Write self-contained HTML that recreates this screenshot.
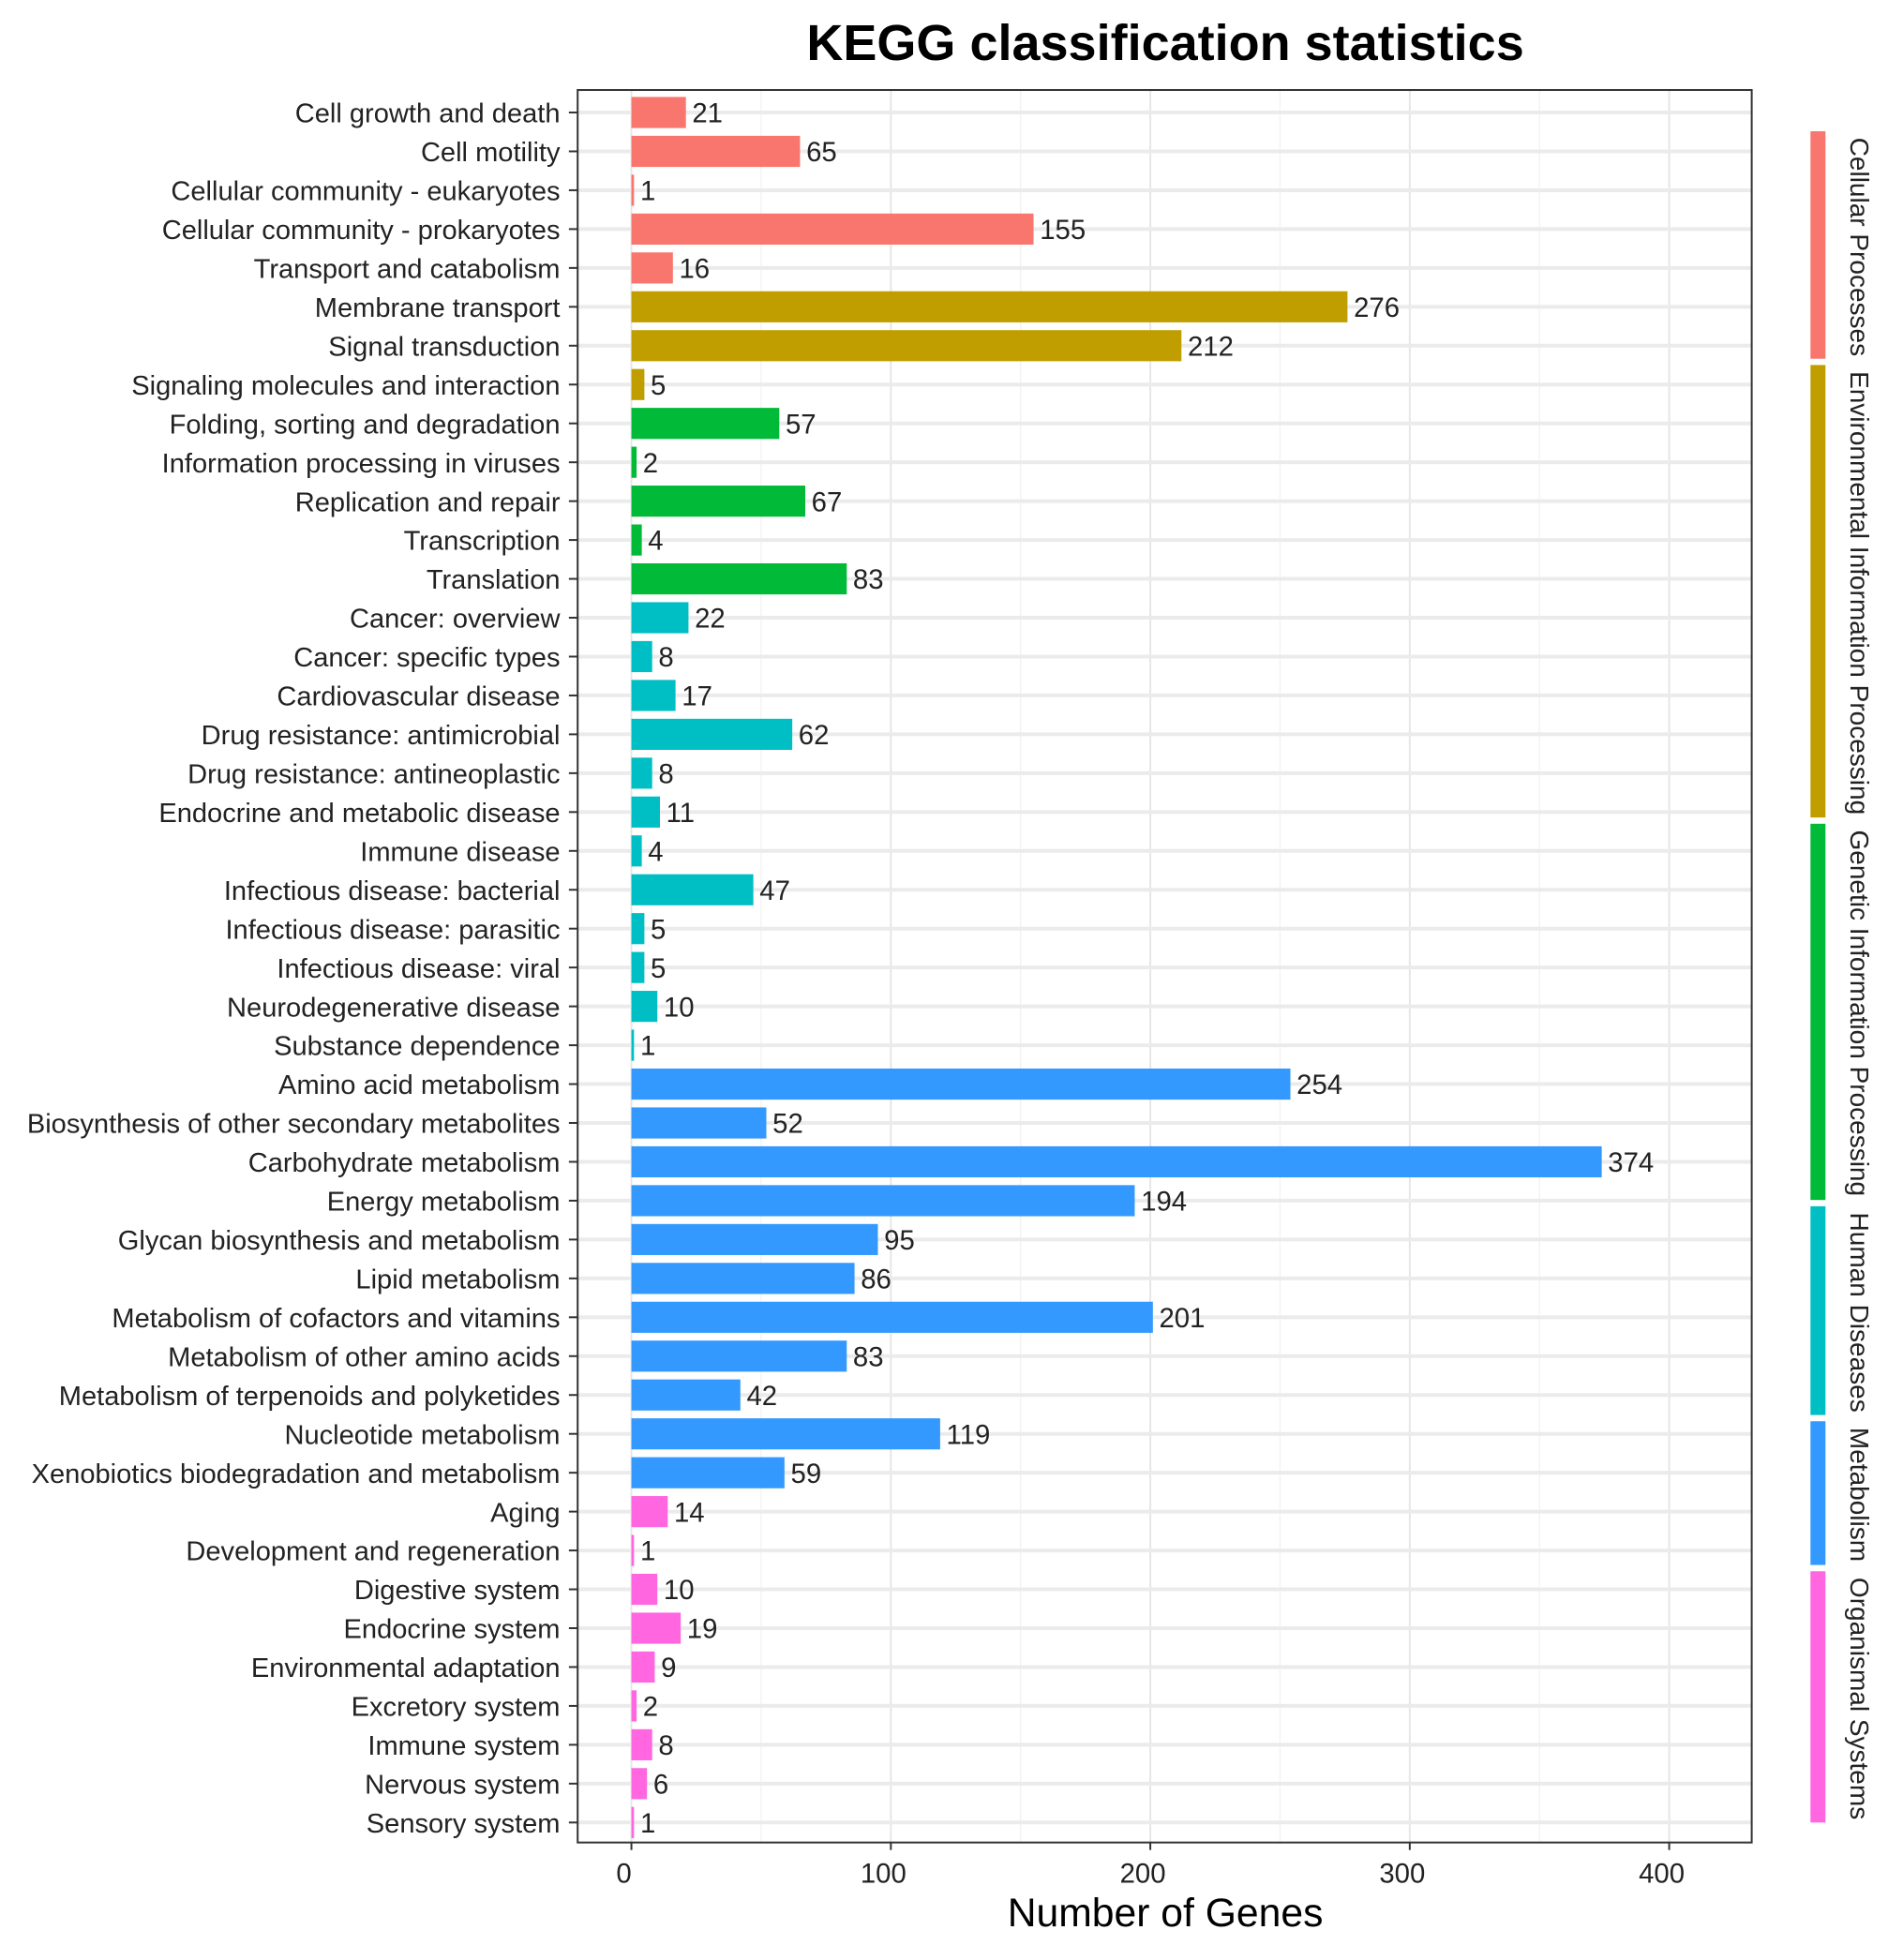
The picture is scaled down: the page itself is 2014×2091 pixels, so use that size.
<!DOCTYPE html>
<html><head><meta charset="utf-8"><style>
html,body{margin:0;padding:0;background:#fff;}
svg{display:block;font-family:"Liberation Sans",sans-serif;}
</style></head><body>
<svg id="chart" width="2014" height="2091" viewBox="0 0 1510 1568" preserveAspectRatio="none" xmlns="http://www.w3.org/2000/svg">
<text x="932" y="48" text-anchor="middle" font-size="40.5" font-weight="bold">KEGG classification statistics</text>
<g id="grid"></g>
<g id="bars"></g>
<g id="yaxis"></g>
<g id="xaxis"></g>
<rect x="462" y="72" width="939" height="1402" fill="none" stroke="#333" stroke-width="1.5"/>
<text x="932" y="1541" text-anchor="middle" font-size="32">Number of Genes</text>
<g id="strips"></g>
</svg>
<script>
const categories = ["Cell growth and death","Cell motility","Cellular community - eukaryotes","Cellular community - prokaryotes","Transport and catabolism","Membrane transport","Signal transduction","Signaling molecules and interaction","Folding, sorting and degradation","Information processing in viruses","Replication and repair","Transcription","Translation","Cancer: overview","Cancer: specific types","Cardiovascular disease","Drug resistance: antimicrobial","Drug resistance: antineoplastic","Endocrine and metabolic disease","Immune disease","Infectious disease: bacterial","Infectious disease: parasitic","Infectious disease: viral","Neurodegenerative disease","Substance dependence","Amino acid metabolism","Biosynthesis of other secondary metabolites","Carbohydrate metabolism","Energy metabolism","Glycan biosynthesis and metabolism","Lipid metabolism","Metabolism of cofactors and vitamins","Metabolism of other amino acids","Metabolism of terpenoids and polyketides","Nucleotide metabolism","Xenobiotics biodegradation and metabolism","Aging","Development and regeneration","Digestive system","Endocrine system","Environmental adaptation","Excretory system","Immune system","Nervous system","Sensory system"];
const values = [21,65,1,155,16,276,212,5,57,2,67,4,83,22,8,17,62,8,11,4,47,5,5,10,1,254,52,374,194,95,86,201,83,42,119,59,14,1,10,19,9,2,8,6,1];
const groups = ["Cellular Processes","Environmental Information Processing","Genetic Information Processing","Human Diseases","Metabolism","Organismal Systems"];
const groupCounts = [5,3,5,12,11,9];
const xTicks = [0,100,200,300,400];
const colors = ["#F8766D","#C09E00","#00BA38","#00BFC4","#3399FF","#FF66E0"];
const stripSpans = [[105,287],[292,654],[659,960],[965,1132],[1137,1252],[1257,1458]];

const NS="http://www.w3.org/2000/svg";
const x0=505, pxPer=(1335-505)/400;
const xs=v=>x0+v*pxPer;
const yTop=90, yBot=1458;
const ys=i=>yTop+i*(yBot-yTop)/(categories.length-1);
const step=(yBot-yTop)/(categories.length-1);
function mk(tag,attrs,parent){const e=document.createElementNS(NS,tag);for(const k in attrs)e.setAttribute(k,attrs[k]);parent.appendChild(e);return e;}
const grid=document.getElementById('grid'),bars=document.getElementById('bars'),yax=document.getElementById('yaxis'),xax=document.getElementById('xaxis'),strips=document.getElementById('strips');
for(let v=50;v<=400;v+=100){const l=mk('line',{x1:xs(v),x2:xs(v),y1:72,y2:1474,stroke:'#f2f2f2','stroke-width':1},grid);

}
xTicks.forEach(v=>{const l=mk('line',{x1:xs(v),x2:xs(v),y1:72,y2:1474,stroke:'#e6e6e6','stroke-width':1.5},grid);


const t=mk('line',{x1:xs(v),x2:xs(v),y1:1474,y2:1480,stroke:'#333','stroke-width':1.5},xax);


const tx=mk('text',{x:xs(v)-6,y:1506,'text-anchor':'middle','font-size':22,fill:'#222'},xax);tx.textContent=v;

});
let gi=0,cnt=0;
categories.forEach((c,i)=>{
 const y=ys(i);
 const hl=mk('line',{x1:462,x2:1401,y1:y,y2:y,stroke:'#ebebeb','stroke-width':3},grid);
 
 
 if(cnt>=groupCounts[gi]){gi++;cnt=0;} cnt++;
 const w=Math.max(xs(values[i])-x0,1.5);
 const r=mk('rect',{x:x0,y:y-step*0.4,width:w,height:step*0.8,fill:colors[gi]},bars);
 
 
 const vl=mk('text',{x:xs(values[i])+5,y:y+8,'font-size':22,fill:'#222'},bars);vl.textContent=values[i];
 
 
 const lb=mk('text',{x:448,y:y+8,'text-anchor':'end','font-size':21.8,fill:'#222'},yax);lb.textContent=c;
 
 
 const tk=mk('line',{x1:455,x2:462,y1:y,y2:y,stroke:'#333','stroke-width':1.5},yax);
 
 
});
groups.forEach((g,i)=>{
 const [a,b]=stripSpans[i];
 const r=mk('rect',{x:1448,y:a,width:12,height:b-a,fill:colors[i]},strips);
 
 
 const t=mk('text',{x:0,y:0,'font-size':21,fill:'#222',transform:`translate(1480,${a+5}) rotate(90)`},strips);t.textContent=g;
 
 
});
</script>
</body></html>
